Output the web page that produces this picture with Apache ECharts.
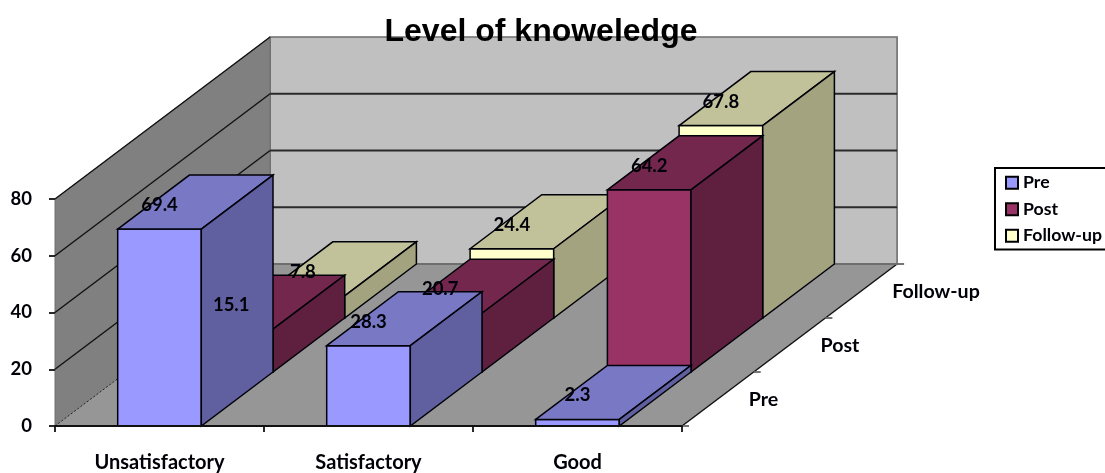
<!DOCTYPE html>
<html>
<head>
<meta charset="utf-8">
<script src="https://cdn.jsdelivr.net/npm/echarts@6/dist/echarts.min.js"></script>
<style>html,body{margin:0;padding:0;background:#fff}#chart{width:1105px;height:473px}</style>
</head>
<body>
<div id="chart"></div>
<script>
const categories = ['Unsatisfactory', 'Satisfactory', 'Good'];
const depthRows = ['Pre', 'Post', 'Follow-up'];
const yTicks = [0, 20, 40, 60, 80];
const preValues = [69.4, 28.3, 2.3];
const postValues = [15.1, 20.7, 64.2];
const followUpValues = [7.8, 24.4, 67.8];

// Oblique projection: screen offset of one row of depth.
const STEP_X = 71.7;
const STEP_Y = -54;
const BAR_RATIO = 0.4;
const CAPTION_FONT = 'bold 18.5px Lato, "Open Sans", sans-serif';
const DEPTH_FONT = 'bold 19.6px Lato, "Open Sans", sans-serif';
const INK = '#000008';

const palettes = {
  Pre: { front: '#9999FF', top: '#7878C4', side: '#6060A0' },
  Post: { front: '#993366', top: '#74274D', side: '#5E203E' },
  'Follow-up': { front: '#FFFFCC', top: '#C2C29A', side: '#A3A380' }
};

function poly(points, fill, stroke, lineWidth) {
  return {
    type: 'polygon',
    shape: { points },
    style: { fill, stroke: stroke || INK, lineWidth: lineWidth === undefined ? 1.5 : lineWidth }
  };
}
function line(x1, y1, x2, y2, stroke, lineWidth, lineDash) {
  return {
    type: 'line',
    shape: { x1, y1, x2, y2 },
    style: { stroke, lineWidth, lineDash: lineDash || null }
  };
}

// Walls, floor, gridlines and the depth axis.
function renderRoom(params, api) {
  const cs = params.coordSys;
  const dx = STEP_X * depthRows.length;
  const dy = STEP_Y * depthRows.length;
  const x0 = cs.x, x1 = cs.x + cs.width;
  const yBase = api.coord([0, 0])[1];
  const yTop = api.coord([0, yTicks[yTicks.length - 1]])[1];
  const children = [
    poly([[x0 + dx, yTop + dy], [x1 + dx, yTop + dy], [x1 + dx, yBase + dy], [x0 + dx, yBase + dy]], '#C0C0C0', '#6e6e6e', 1.6),
    poly([[x0, yTop], [x0 + dx, yTop + dy], [x0 + dx, yBase + dy], [x0, yBase]], '#808080', '#6e6e6e', 1),
    poly([[x0, yBase], [x1, yBase], [x1 + dx, yBase + dy], [x0 + dx, yBase + dy]], '#969696', 'none', 0),
    line(x0, yBase, x0 + dx, yBase + dy, '#222', 1, [2, 2]),
    line(x1, yBase, x1 + dx, yBase + dy, '#111', 1.5),
    line(x0 + dx, yBase + dy, x1 + dx, yBase + dy, '#6e6e6e', 1.8)
  ];
  yTicks.slice(1).forEach(function (v) {
    const y = api.coord([0, v])[1];
    children.push(line(x0, y, x0 + dx, y + dy, '#111', 1.4));
    if (v !== yTicks[yTicks.length - 1]) {
      children.push(line(x0 + dx, y + dy, x1 + dx, y + dy, '#2a2a2a', 1.8));
    }
  });
  for (let i = 0; i <= depthRows.length; i++) {
    const tx = x1 + STEP_X * i, ty = yBase + STEP_Y * i;
    children.push(line(tx, ty, tx + 7, ty, '#666', 1.8));
  }
  depthRows.forEach(function (name, i) {
    children.push({
      type: 'text',
      style: {
        text: name,
        x: x1 + STEP_X * (i + 0.5) + 31,
        y: yBase + STEP_Y * (i + 0.5) + 1,
        align: 'left',
        verticalAlign: 'middle',
        font: DEPTH_FONT,
        fill: INK
      }
    });
  });
  return { type: 'group', children };
}

// One row of boxes: front, top and side faces.
function boxRenderer(row, palette) {
  return function (params, api) {
    const base = api.coord([api.value(0), 0]);
    const top = api.coord([api.value(0), api.value(1)]);
    const half = api.size([1, 0])[0] * BAR_RATIO / 2;
    const ox = STEP_X * row, oy = STEP_Y * row;
    const l = base[0] - half + ox, r = base[0] + half + ox;
    const b = base[1] + oy, t = top[1] + oy;
    return {
      type: 'group',
      children: [
        poly([[l, t], [r, t], [r, b], [l, b]], palette.front),
        poly([[l, t], [l + STEP_X, t + STEP_Y], [r + STEP_X, t + STEP_Y], [r, t]], palette.top),
        poly([[r, t], [r + STEP_X, t + STEP_Y], [r + STEP_X, b + STEP_Y], [r, b]], palette.side)
      ]
    };
  };
}

function rowSeries(name, values) {
  const row = depthRows.indexOf(name);
  return {
    name,
    type: 'custom',
    coordinateSystem: 'cartesian2d',
    silent: true,
    clip: false,
    z: 5 + (depthRows.length - row),
    itemStyle: { color: palettes[name].front },
    data: values.map(function (v, i) { return [i, v]; }),
    renderItem: boxRenderer(row, palettes[name])
  };
}

// Value captions sit above every box, offset along the box's depth.
function renderCaption(params, api) {
  const top = api.coord([api.value(0), api.value(1)]);
  const row = api.value(2);
  return {
    type: 'text',
    style: {
      text: String(api.value(1)),
      x: top[0] + STEP_X * row,
      y: top[1] + STEP_Y * row - 24,
      align: 'center',
      verticalAlign: 'middle',
      font: CAPTION_FONT,
      fill: INK
    }
  };
}

const captionData = [];
[preValues, postValues, followUpValues].forEach(function (values, row) {
  values.forEach(function (v, i) { captionData.push([i, v, row]); });
});

const chart = echarts.init(document.getElementById('chart'), null, { renderer: 'canvas' });
chart.setOption({
  animation: false,
  backgroundColor: '#fff',
  title: {
    text: 'Level of knoweledge',
    left: 536,
    top: 11,
    textAlign: 'center',
    textStyle: { fontFamily: '"Liberation Sans", Arial, sans-serif', fontWeight: 'bold', fontSize: 32, color: '#000' },
    z: 20
  },
  legend: {
    orient: 'vertical',
    left: 995,
    top: 168,
    padding: [4, 10, 3, 10],
    itemWidth: 12,
    itemHeight: 12,
    itemGap: 5,
    icon: 'rect',
    selectedMode: false,
    data: ['Pre', 'Post', 'Follow-up'],
    borderColor: '#000',
    borderWidth: 2,
    itemStyle: { borderColor: '#000', borderWidth: 2 },
    textStyle: { fontFamily: 'Lato', fontWeight: 'bold', fontSize: 17.7, color: INK, lineHeight: 21.5 }
  },
  grid: { left: 55, right: 423, top: 199, bottom: 47 },
  xAxis: {
    type: 'category',
    data: categories,
    z: 12,
    axisLine: { show: true, lineStyle: { color: '#111', width: 1.8 } },
    axisTick: { show: true, length: 6, alignWithLabel: false, lineStyle: { color: '#111', width: 1.8 } },
    axisLabel: { margin: 27, fontFamily: 'Lato', fontWeight: 'bold', fontSize: 20, color: INK },
    splitLine: { show: false }
  },
  yAxis: {
    type: 'value',
    min: yTicks[0],
    max: yTicks[yTicks.length - 1],
    interval: 20,
    z: 12,
    axisLine: { show: false },
    axisTick: { show: true, length: 6, lineStyle: { color: '#111', width: 1.8 } },
    axisLabel: { margin: 23, padding: [6, 0, 0, 0], fontFamily: 'Lato', fontWeight: 'bold', fontSize: 18.5, color: INK },
    splitLine: { show: false }
  },
  series: [
    {
      type: 'custom',
      coordinateSystem: 'cartesian2d',
      silent: true,
      clip: false,
      z: 1,
      data: [[0, 0]],
      renderItem: renderRoom
    },
    rowSeries('Follow-up', followUpValues),
    rowSeries('Post', postValues),
    rowSeries('Pre', preValues),
    {
      type: 'custom',
      coordinateSystem: 'cartesian2d',
      silent: true,
      clip: false,
      z: 15,
      data: captionData,
      renderItem: renderCaption
    }
  ]
});
</script>
</body>
</html>
